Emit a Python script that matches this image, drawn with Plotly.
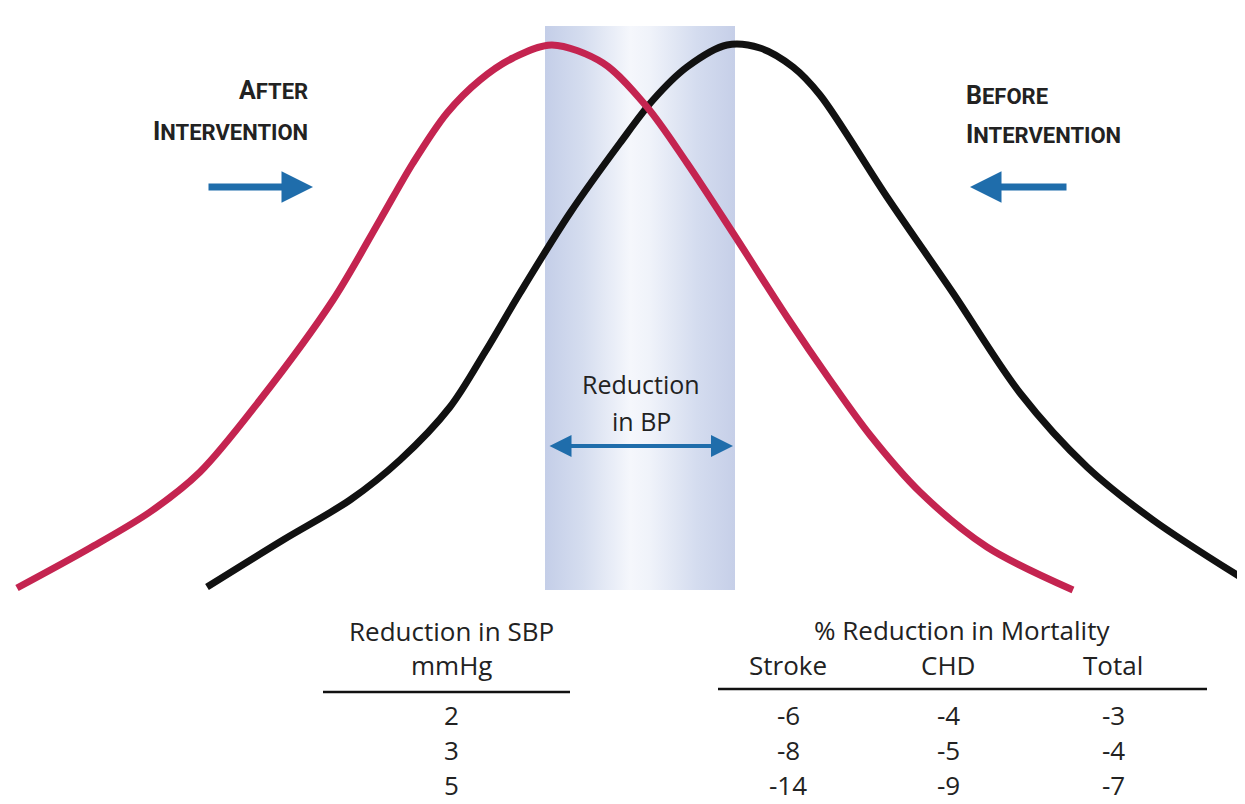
import plotly.graph_objects as go

# ---- data (pixel-space coordinates) ----
after_x = [17, 90, 150, 200, 260, 333, 380, 413, 447, 480, 513, 552, 603, 647, 687, 733, 787, 830, 870, 920, 987, 1073]
after_y = [588, 548, 512, 472, 400, 300, 220, 163, 113, 80, 58, 45, 63, 107, 163, 233, 317, 380, 435, 492, 547, 590]

before_x = [207, 283, 350, 400, 450, 485, 520, 570, 620, 653, 687, 727, 760, 793, 820, 887, 953, 1020, 1087, 1153, 1245]
before_y = [587, 540, 500, 460, 407, 352, 293, 213, 143, 100, 67, 45, 48, 67, 95, 197, 293, 393, 467, 520, 580]

band_x = [545, 735]
band_y = [26, 590]

sbp_reduction = ["2", "3", "5"]
stroke = ["-6", "-8", "-14"]
chd = ["-4", "-5", "-9"]
total = ["-3", "-4", "-7"]
col_headers = ["Stroke", "CHD", "Total"]

W, H = 1245, 804
OFF = 8  # page body margin
ARROW = "#1f6dab"
TXT = "#222222"
FONT = "Open Sans"
BOLD = "Roboto"

fig = go.Figure()

# shaded band with horizontal gradient
fig.add_trace(go.Scatter(
    x=[band_x[0], band_x[1], band_x[1], band_x[0], band_x[0]],
    y=[band_y[0], band_y[0], band_y[1], band_y[1], band_y[0]],
    mode="lines", line=dict(width=0), fill="toself",
    fillgradient=dict(type="horizontal",
                      colorscale=[[0, "#c4cee8"], [0.2, "#d5ddef"], [0.45, "#f5f7fc"],
                                  [0.55, "#f0f3fa"], [0.8, "#d4dcef"], [1, "#c6cfe8"]]),
    hoverinfo="skip", showlegend=False))

fig.add_trace(go.Scatter(x=before_x, y=before_y, mode="lines",
                         line=dict(color="#111111", width=7, shape="spline", smoothing=0.9),
                         showlegend=False, hoverinfo="skip"))
fig.add_trace(go.Scatter(x=after_x, y=after_y, mode="lines",
                         line=dict(color="#c42450", width=7, shape="spline", smoothing=0.9),
                         showlegend=False, hoverinfo="skip"))

ann = []

def txt(x, y, s, size=22, anchor="center", font=FONT, color=TXT):
    ann.append(dict(x=x, y=y, xref="x", yref="y", text=s, showarrow=False,
                    xanchor=anchor, yanchor="middle",
                    font=dict(family=font, size=size, color=color)))

def sc(word, small=22):
    return "<b>%s<span style='font-size:%dpx'>%s</span></b>" % (word[0], small, word[1:])

# labels
txt(310, 90, sc("AFTER"), anchor="right", font=BOLD, size=25)
txt(310, 131, sc("INTERVENTION"), anchor="right", font=BOLD, size=25)
txt(964, 95, sc("BEFORE"), anchor="left", font=BOLD, size=25)
txt(964, 134, sc("INTERVENTION"), anchor="left", font=BOLD, size=25)
txt(641, 384, "Reduction", size=25)
txt(641, 421, "in BP", size=25)

# arrows
def arrow(x0, y0, x1, y1, width, size, both=False):
    ann.append(dict(x=x1, y=y1, ax=x0, ay=y0, xref="x", yref="y", axref="x", ayref="y",
                    text="", showarrow=True, arrowhead=2, arrowsize=size, arrowwidth=width,
                    arrowcolor=ARROW, arrowside="end+start" if both else "end",
                    startarrowhead=2, startarrowsize=size))

arrow(207, 187, 313, 187, 7, 0.9)
arrow(1068, 187, 970, 187, 7, 0.9)
arrow(548, 446, 733, 446, 4, 1.1, both=True)

# table left
TS = 26
txt(451, 631, "Reduction in SBP", size=TS)
txt(451, 665, "mmHg", size=TS)
rows_y = [715, 750, 785]
for v, y in zip(sbp_reduction, rows_y):
    txt(451, y, v, size=TS)

# table right
txt(962, 630, "% Reduction in Mortality", size=TS)
col_x = [788, 948, 1113]
for h, x in zip(col_headers, col_x):
    txt(x, 665, h, size=TS)
for col, x in zip([stroke, chd, total], col_x):
    for v, y in zip(col, rows_y):
        txt(x, y, v, size=TS)

shapes = [
    dict(type="line", xref="x", yref="y", x0=323, x1=570, y0=692, y1=692,
         line=dict(color="#111111", width=2.5)),
    dict(type="line", xref="x", yref="y", x0=718, x1=1207, y0=689, y1=689,
         line=dict(color="#111111", width=2.5)),
]

fig.update_layout(
    width=W - OFF, height=H - OFF, margin=dict(l=0, r=0, t=0, b=0),
    paper_bgcolor="white", plot_bgcolor="white",
    xaxis=dict(range=[OFF, W], visible=False, fixedrange=True),
    yaxis=dict(range=[H, OFF], visible=False, fixedrange=True),
    annotations=ann, shapes=shapes, showlegend=False,
)

fig.write_html("out.html")
